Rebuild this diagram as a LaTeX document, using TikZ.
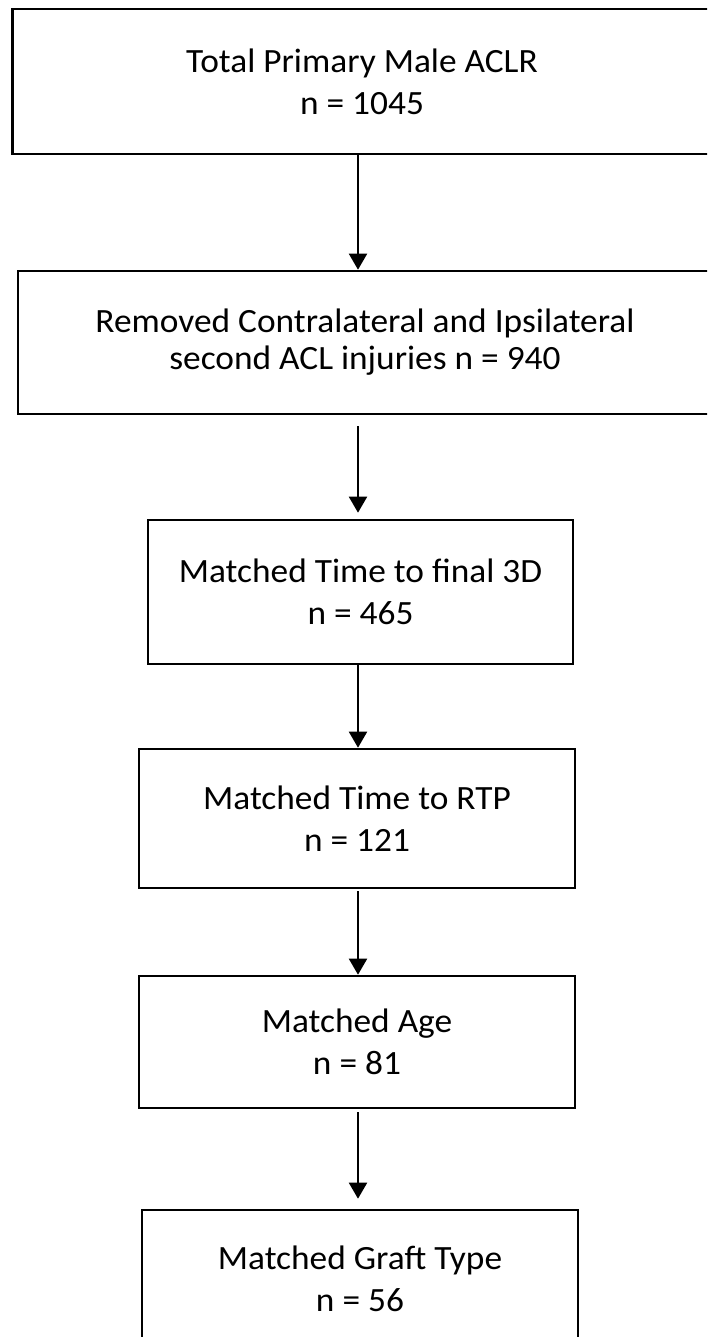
\documentclass[tikz,border=0pt]{standalone}
\usepackage{fontspec}
\setmainfont{Carlito}[FakeStretch=1.04]
\usetikzlibrary{arrows.meta}

\begin{document}
\begin{tikzpicture}[x=1pt,y=-1pt,
		box/.style={draw,rectangle,line width=2.6pt,align=center,inner sep=0pt,
			font=\fontsize{34}{42}\selectfont},
		flow/.style={line width=2pt,-{Triangle[length=16pt,width=18pt]}}]
		\useasboundingbox (0,0) rectangle (707,1337);
		\clip (0,0) rectangle (707,1337);
		\coordinate (spine) at (358,0);
		% boxes, top to bottom
		\node[box,minimum width=699pt,minimum height=145pt] (total) at (362,81.7)
			{Total Primary Male ACLR\\n = 1045};
		\node[box,minimum width=694pt,minimum height=143pt,font=\fontsize{34}{37}\selectfont] (removed) at (365,342.5)
			{Removed Contralateral and Ipsilateral\\second ACL injuries n = 940};
		\node[box,minimum width=425pt,minimum height=144pt] (time3d) at (360.5,592)
			{Matched Time to final 3D\\n = 465};
		\node[box,minimum width=436pt,minimum height=139pt] (timertp) at (357,818.5)
			{Matched Time to RTP\\n = 121};
		\node[box,minimum width=436pt,minimum height=132pt] (age) at (357,1042)
			{Matched Age\\n = 81};
		\node[box,minimum width=436pt,minimum height=137pt] (graft) at (360,1278.5)
			{Matched Graft Type\\n = 56};
		% arrows
		\path[flow]
		(total.south -| spine) edge (removed.north -| spine)
		(removed.south -| spine) edge[shorten <=11pt,shorten >=6pt] (time3d.north -| spine)
		(time3d.south -| spine) edge (timertp.north -| spine)
		(timertp.south -| spine) edge[shorten <=2pt] (age.north -| spine)
		(age.south -| spine) edge[shorten <=3pt,shorten >=10pt] (graft.north -| spine);
\end{tikzpicture}
\end{document}
